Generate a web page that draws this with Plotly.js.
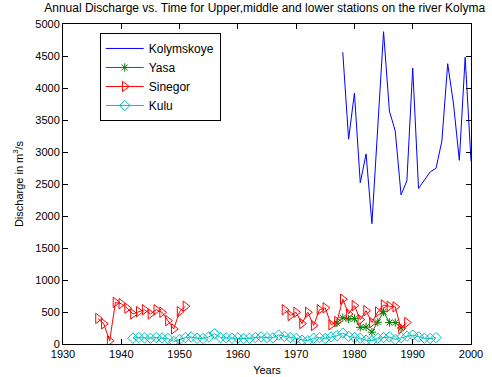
<!DOCTYPE html>
<html>
<head>
<meta charset="utf-8">
<script src="https://cdn.plot.ly/plotly-3.0.1.min.js"></script>
<style>html,body{margin:0;padding:0;background:#fff;}#chart{width:492px;height:377px;}</style>
</head>
<body>
<div id="chart"></div>
<script>
// Kolymskoye
const kolYears = [1978,1979,1980,1981,1982,1983,1985,1986,1987,1988,1989,1990,1991,1992,1993,1994,1995,1996,1997,1998,1999,2000];
const kolValues = [4560,3200,3920,2520,2970,1880,4880,3640,3330,2330,2550,4310,2430,2560,2690,2745,3170,4380,3750,2870,4480,2860];

// Yasa
const yasaYears = [1977,1978,1979,1980,1981,1982,1983,1984,1985,1986,1987,1988];
const yasaValues = [330,410,390,400,260,265,185,340,505,335,335,250];

// Sinegor
const sinYears = [1936,1937,1938,1939,1940,1941,1942,1943,1944,1945,1946,1947,1948,1949,1950,1951,
                  1968,1969,1970,1971,1972,1973,1974,1975,1976,1977,1978,1979,1980,1981,1982,1983,1984,1985,1986,1987,1988,1989];
const sinValues = [400,315,50,650,630,560,470,505,535,470,535,495,365,235,505,590,
                   535,445,495,320,495,290,535,565,300,350,700,470,600,380,520,335,500,610,590,580,240,335];

// Kulu
const kuluYears = [1942,1943,1944,1945,1946,1947,1948,1949,1950,1951,1952,1953,1954,1955,1956,1957,1958,1959,1960,1961,
                   1962,1963,1964,1965,1966,1967,1968,1969,1970,1971,1972,1973,1974,1975,1976,1977,1978,1979,1980,1981,
                   1982,1983,1984,1985,1986,1987,1988,1989,1990,1991,1992,1993,1994];
const kuluValues = [90,100,95,90,100,95,85,40,70,100,110,90,85,110,160,100,95,90,95,85,
                    90,100,110,100,95,140,120,100,85,60,50,90,100,85,110,130,170,120,100,90,
                    60,50,90,100,110,70,100,120,140,110,90,85,100];

const traces = [
  {x: kolYears, y: kolValues, name: 'Kolymskoye', type: 'scatter', mode: 'lines',
   line: {color: 'rgb(0,0,255)', width: 1}},
  {x: yasaYears, y: yasaValues, name: 'Yasa', type: 'scatter', mode: 'lines+markers',
   line: {color: 'rgb(0,128,0)', width: 1},
   marker: {symbol: 'asterisk-open', size: 7, color: 'rgb(0,128,0)', line: {color: 'rgb(0,128,0)', width: 1}}},
  {x: sinYears.slice(0,16), y: sinValues.slice(0,16), name: 'Sinegor', type: 'scatter', mode: 'lines+markers',
   legendgroup: 'sin',
   line: {color: 'rgb(255,0,0)', width: 1},
   marker: {symbol: 'triangle-right-open', size: 9, color: 'rgb(255,0,0)', line: {color: 'rgb(255,0,0)', width: 1}}},
  {x: sinYears.slice(16), y: sinValues.slice(16), name: 'Sinegor', type: 'scatter', mode: 'lines+markers',
   legendgroup: 'sin', showlegend: false,
   line: {color: 'rgb(255,0,0)', width: 1},
   marker: {symbol: 'triangle-right-open', size: 9, color: 'rgb(255,0,0)', line: {color: 'rgb(255,0,0)', width: 1}}},
  {x: kuluYears, y: kuluValues, name: 'Kulu', type: 'scatter', mode: 'lines+markers',
   line: {color: 'rgb(0,191,191)', width: 1},
   marker: {symbol: 'diamond-open', size: 8, color: 'rgb(0,191,191)', line: {color: 'rgb(0,191,191)', width: 1}}}
];

const axisCommon = {
  showline: true, linecolor: '#000', linewidth: 1, mirror: 'ticks',
  ticks: 'inside', ticklen: 5, tickcolor: '#000', tickwidth: 1,
  showgrid: false, zeroline: false,
  tickfont: {family: 'Liberation Sans, Arial, sans-serif', size: 11, color: '#000'}
};

const layout = {
  width: 492, height: 377,
  margin: {l: 63, r: 21, t: 24, b: 33},
  paper_bgcolor: '#fff', plot_bgcolor: '#fff',
  font: {family: 'Liberation Sans, Arial, sans-serif', size: 11, color: '#000'},
  title: {text: 'Annual Discharge vs. Time for Upper,middle and lower stations on the river Kolyma',
          font: {size: 12, color: '#000'}, x: 0.538, xanchor: 'center', y: 0.99, yanchor: 'top'},
  xaxis: Object.assign({}, axisCommon, {range: [1930, 2000], tickvals: [1930,1940,1950,1960,1970,1980,1990,2000],
         ticktext: ['1930','1940','1950','1960','1970','1980','1990','2000'],
         title: {text: 'Years', font: {size: 11}, standoff: 7}}),
  yaxis: Object.assign({}, axisCommon, {range: [0, 5000], tickvals: [0,500,1000,1500,2000,2500,3000,3500,4000,4500,5000],
         title: {text: 'Discharge in m<sup>3</sup>/s', font: {size: 11}, standoff: 9}}),
  showlegend: true,
  legend: {x: 0.09, y: 0.972, xanchor: 'left', yanchor: 'top', bgcolor: '#fff',
           bordercolor: '#000', borderwidth: 1, font: {size: 12, color: '#000'},
           tracegroupgap: 0, itemwidth: 38}
};

Plotly.newPlot('chart', traces, layout, {staticPlot: true, displayModeBar: false});
</script>
</body>
</html>
